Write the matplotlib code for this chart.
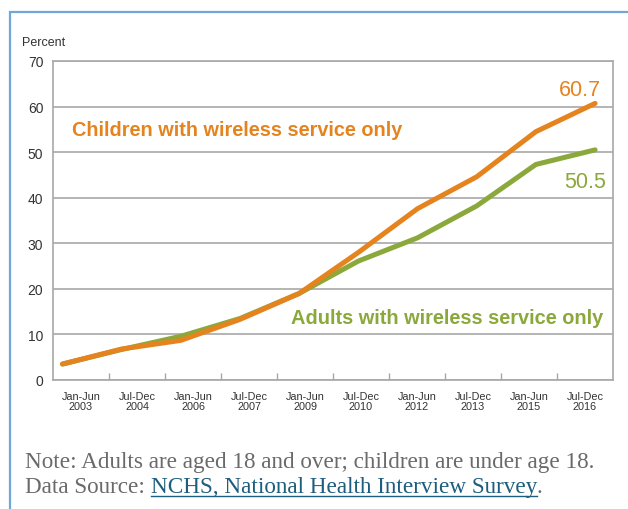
import matplotlib
matplotlib.use("Agg")
import matplotlib.pyplot as plt
from matplotlib.patches import Rectangle
from matplotlib.lines import Line2D
import numpy as np

# data (percent of persons in wireless-only households)
periods = ["Jan-Jun\n2003", "Jul-Dec\n2004", "Jan-Jun\n2006", "Jul-Dec\n2007", "Jan-Jun\n2009",
           "Jul-Dec\n2010", "Jan-Jun\n2012", "Jul-Dec\n2013", "Jan-Jun\n2015", "Jul-Dec\n2016"]
children = [3.5, 6.8, 8.7, 13.3, 19.0, 28.0, 37.6, 44.6, 54.5, 60.7]
adults = [3.5, 6.7, 9.6, 13.5, 19.0, 26.1, 31.2, 38.2, 47.3, 50.5]
yticks = [0, 10, 20, 30, 40, 50, 60, 70]

ORANGE = "#E5841E"
GREEN = "#8BA83B"
GRID = "#A8A8A8"
SANS = ["Liberation Sans", "DejaVu Sans"]
SERIF = ["Liberation Serif", "DejaVu Serif"]

fig = plt.figure(figsize=(6.28, 5.10), dpi=100)
W, H = 628, 510

# blue frame round the chart (runs off the right and bottom edges)
fig.patches.append(Rectangle((10 / W, -0.1), 1.2, (H - 13) / H + 0.1, transform=fig.transFigure,
                             fill=False, edgecolor="#6FA8D8", lw=1.6))

ax = fig.add_axes([53 / W, 1 - 381 / H, 560 / W, 319 / H])
ax.set_xlim(-0.5, len(periods) - 0.5)
ax.set_ylim(0, 70)

# the lines run a little wider than the category centres in the original
xs = np.linspace(-0.33, 9.18, len(periods))
ax.plot(xs, adults, color=GREEN, lw=3.6, solid_capstyle="round", solid_joinstyle="miter", zorder=3)
ax.plot(xs, children, color=ORANGE, lw=3.6, solid_capstyle="round", solid_joinstyle="miter", zorder=4)

ax.set_yticks(yticks)
ax.set_yticklabels([str(v) for v in yticks], family=SANS, fontsize=10, color="#333333")
ax.yaxis.grid(True, color=GRID, lw=1.2)
ax.set_axisbelow(True)
ax.tick_params(axis="y", length=0, pad=7)

ax.set_xticks(np.arange(len(periods)))
ax.set_xticklabels(periods, family=SANS, fontsize=7.8, color="#333333", linespacing=1.0)
ax.set_xticks(np.arange(len(periods) - 1) + 0.5, minor=True)
ax.tick_params(axis="x", which="major", length=0, pad=8)
ax.tick_params(axis="x", which="minor", direction="in", length=5, color=GRID, width=1)
for s in ax.spines.values():
    s.set_color(GRID)
    s.set_linewidth(1.2)

fig.text(22 / W, 1 - 43 / H, "Percent", family=SANS, fontsize=9, color="#333333", va="center")

ax.text(72 / W, 1 - 131 / H, "Children with wireless service only", transform=fig.transFigure,
        family=SANS, fontsize=14.3, fontweight="bold", color=ORANGE, va="center")
ax.text(603 / W, 1 - 318 / H, "Adults with wireless service only", transform=fig.transFigure,
        family=SANS, fontsize=14.4, fontweight="bold", color=GREEN, va="center", ha="right")
ax.text(601 / W, 1 - 90 / H, f"{children[-1]}", transform=fig.transFigure,
        family=SANS, fontsize=15.5, color=ORANGE, va="center", ha="right")
ax.text(606 / W, 1 - 183 / H, f"{adults[-1]}", transform=fig.transFigure,
        family=SANS, fontsize=15.5, color=GREEN, va="center", ha="right")

# notes underneath
fig.text(25 / W, 1 - 463 / H, "Note: Adults are aged 18 and over; children are under age 18.",
         family=SERIF, fontsize=16.7, color="#6A6A6A", va="center")
t1 = fig.text(25 / W, 1 - 488 / H, "Data Source: ", family=SERIF, fontsize=16.7,
              color="#6A6A6A", va="center")
fig.canvas.draw()
r = fig.canvas.get_renderer()
bb = t1.get_window_extent(r)
t2 = fig.text(bb.x1 / W, 1 - 488 / H, "NCHS, National Health Interview Survey", family=SERIF,
              fontsize=16.7, color="#1D5E80", va="center")
bb2 = t2.get_window_extent(r)
fig.lines.append(Line2D([bb2.x0 / W, bb2.x1 / W], [(bb2.y0 + 2) / H] * 2, transform=fig.transFigure,
                        color="#1D5E80", lw=1))
fig.text(bb2.x1 / W, 1 - 488 / H, ".", family=SERIF, fontsize=16.7, color="#6A6A6A", va="center")

fig.savefig("out.png", dpi=100)
